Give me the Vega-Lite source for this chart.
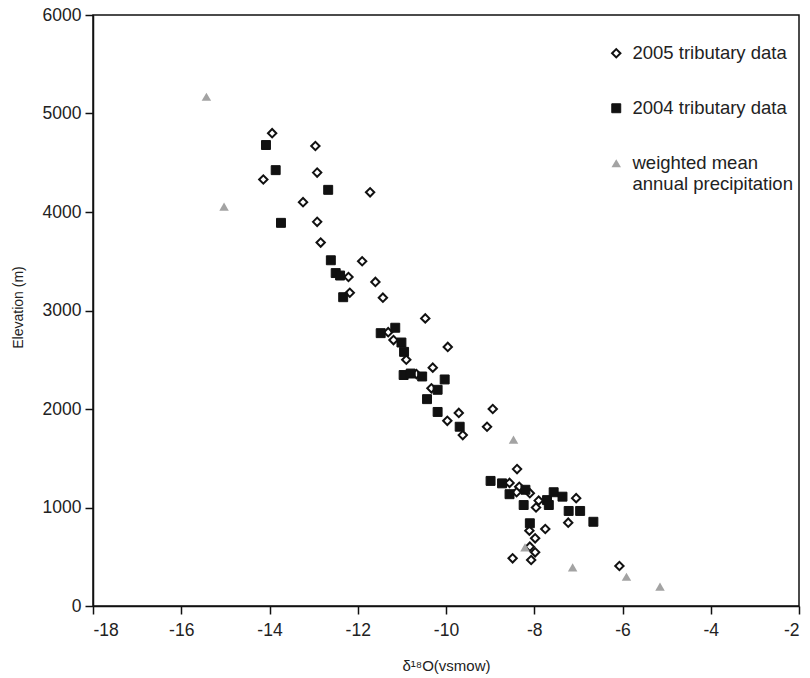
{
  "$schema": "https://vega.github.io/schema/vega-lite/v6.json",
  "width": 706,
  "height": 591,
  "autosize": {"type": "none"},
  "padding": {"left": 93, "top": 15, "right": 11, "bottom": 72},
  "background": "white",
  "config": {
    "view": {"stroke": "#111", "strokeWidth": 1.5},
    "font": "Liberation Sans",
    "axis": {
      "grid": false, "domainColor": "#111", "domainWidth": 1.5,
      "tickColor": "#111", "tickWidth": 1.5, "tickSize": 8,
      "labelFont": "Liberation Sans", "labelFontSize": 17.5, "labelColor": "#222",
      "titleFont": "Liberation Sans", "titleFontWeight": "normal", "titleColor": "#222"
    }
  },
  "data": {"values": [
    {"series": "2005 tributary data", "d18O": -13.94, "elevation": 4800},
    {"series": "2005 tributary data", "d18O": -12.96, "elevation": 4670},
    {"series": "2005 tributary data", "d18O": -12.92, "elevation": 4400},
    {"series": "2005 tributary data", "d18O": -14.14, "elevation": 4330},
    {"series": "2005 tributary data", "d18O": -11.72, "elevation": 4200},
    {"series": "2005 tributary data", "d18O": -13.24, "elevation": 4100},
    {"series": "2005 tributary data", "d18O": -12.92, "elevation": 3900},
    {"series": "2005 tributary data", "d18O": -12.84, "elevation": 3690},
    {"series": "2005 tributary data", "d18O": -11.90, "elevation": 3500},
    {"series": "2005 tributary data", "d18O": -12.21, "elevation": 3340},
    {"series": "2005 tributary data", "d18O": -11.60, "elevation": 3290},
    {"series": "2005 tributary data", "d18O": -12.18, "elevation": 3180},
    {"series": "2005 tributary data", "d18O": -11.43, "elevation": 3130},
    {"series": "2005 tributary data", "d18O": -10.47, "elevation": 2920},
    {"series": "2005 tributary data", "d18O": -11.31, "elevation": 2780},
    {"series": "2005 tributary data", "d18O": -11.19, "elevation": 2700},
    {"series": "2005 tributary data", "d18O": -9.96, "elevation": 2630},
    {"series": "2005 tributary data", "d18O": -10.90, "elevation": 2500},
    {"series": "2005 tributary data", "d18O": -10.30, "elevation": 2420},
    {"series": "2005 tributary data", "d18O": -10.67, "elevation": 2355},
    {"series": "2005 tributary data", "d18O": -10.33, "elevation": 2210},
    {"series": "2005 tributary data", "d18O": -9.71, "elevation": 1960},
    {"series": "2005 tributary data", "d18O": -8.94, "elevation": 2000},
    {"series": "2005 tributary data", "d18O": -9.97, "elevation": 1880},
    {"series": "2005 tributary data", "d18O": -9.07, "elevation": 1820},
    {"series": "2005 tributary data", "d18O": -9.62, "elevation": 1735},
    {"series": "2005 tributary data", "d18O": -8.39, "elevation": 1390},
    {"series": "2005 tributary data", "d18O": -8.56, "elevation": 1250},
    {"series": "2005 tributary data", "d18O": -8.34, "elevation": 1210},
    {"series": "2005 tributary data", "d18O": -8.40, "elevation": 1155},
    {"series": "2005 tributary data", "d18O": -8.10, "elevation": 1145},
    {"series": "2005 tributary data", "d18O": -7.90, "elevation": 1070},
    {"series": "2005 tributary data", "d18O": -7.96, "elevation": 1000},
    {"series": "2005 tributary data", "d18O": -7.05, "elevation": 1095},
    {"series": "2005 tributary data", "d18O": -7.23, "elevation": 846},
    {"series": "2005 tributary data", "d18O": -8.11, "elevation": 765},
    {"series": "2005 tributary data", "d18O": -7.75, "elevation": 782},
    {"series": "2005 tributary data", "d18O": -7.98, "elevation": 687},
    {"series": "2005 tributary data", "d18O": -8.10, "elevation": 602},
    {"series": "2005 tributary data", "d18O": -7.98, "elevation": 545},
    {"series": "2005 tributary data", "d18O": -8.49, "elevation": 484},
    {"series": "2005 tributary data", "d18O": -8.07, "elevation": 467},
    {"series": "2005 tributary data", "d18O": -6.07, "elevation": 406},
    {"series": "2004 tributary data", "d18O": -14.08, "elevation": 4680},
    {"series": "2004 tributary data", "d18O": -13.86, "elevation": 4425},
    {"series": "2004 tributary data", "d18O": -12.67, "elevation": 4225},
    {"series": "2004 tributary data", "d18O": -13.74, "elevation": 3890},
    {"series": "2004 tributary data", "d18O": -12.61, "elevation": 3510},
    {"series": "2004 tributary data", "d18O": -12.50, "elevation": 3380},
    {"series": "2004 tributary data", "d18O": -12.40, "elevation": 3355},
    {"series": "2004 tributary data", "d18O": -12.33, "elevation": 3135},
    {"series": "2004 tributary data", "d18O": -11.48, "elevation": 2770},
    {"series": "2004 tributary data", "d18O": -11.15, "elevation": 2825},
    {"series": "2004 tributary data", "d18O": -11.01, "elevation": 2675},
    {"series": "2004 tributary data", "d18O": -10.95, "elevation": 2580},
    {"series": "2004 tributary data", "d18O": -10.96, "elevation": 2345},
    {"series": "2004 tributary data", "d18O": -10.80, "elevation": 2360},
    {"series": "2004 tributary data", "d18O": -10.54, "elevation": 2330},
    {"series": "2004 tributary data", "d18O": -10.03, "elevation": 2300},
    {"series": "2004 tributary data", "d18O": -10.19, "elevation": 2195},
    {"series": "2004 tributary data", "d18O": -10.43, "elevation": 2100},
    {"series": "2004 tributary data", "d18O": -10.19, "elevation": 1970},
    {"series": "2004 tributary data", "d18O": -9.69, "elevation": 1820},
    {"series": "2004 tributary data", "d18O": -8.99, "elevation": 1270},
    {"series": "2004 tributary data", "d18O": -8.73, "elevation": 1245},
    {"series": "2004 tributary data", "d18O": -8.20, "elevation": 1180},
    {"series": "2004 tributary data", "d18O": -8.56, "elevation": 1135},
    {"series": "2004 tributary data", "d18O": -8.24, "elevation": 1025},
    {"series": "2004 tributary data", "d18O": -7.71, "elevation": 1075},
    {"series": "2004 tributary data", "d18O": -7.67, "elevation": 1025},
    {"series": "2004 tributary data", "d18O": -7.56, "elevation": 1155},
    {"series": "2004 tributary data", "d18O": -7.36, "elevation": 1110},
    {"series": "2004 tributary data", "d18O": -7.22, "elevation": 965},
    {"series": "2004 tributary data", "d18O": -6.96, "elevation": 965},
    {"series": "2004 tributary data", "d18O": -6.66, "elevation": 855},
    {"series": "2004 tributary data", "d18O": -8.10, "elevation": 840},
    {"series": "weighted mean annual precipitation", "d18O": -15.43, "elevation": 5170},
    {"series": "weighted mean annual precipitation", "d18O": -15.03, "elevation": 4055},
    {"series": "weighted mean annual precipitation", "d18O": -8.47, "elevation": 1690},
    {"series": "weighted mean annual precipitation", "d18O": -8.21, "elevation": 596},
    {"series": "weighted mean annual precipitation", "d18O": -7.13, "elevation": 393},
    {"series": "weighted mean annual precipitation", "d18O": -5.91, "elevation": 297},
    {"series": "weighted mean annual precipitation", "d18O": -5.15, "elevation": 196}
  ]},
  "mark": {"type": "point", "filled": true, "opacity": 1},
  "encoding": {
    "x": {
      "field": "d18O", "type": "quantitative",
      "scale": {"domain": [-18, -2], "nice": false, "zero": false},
      "axis": {"values": [-18, -16, -14, -12, -10, -8, -6, -4, -2], "labelExpr": "toString(datum.value)", "title": "δ¹⁸O(vsmow)", "titleFontSize": 15, "titleY": 59, "titleBaseline": "middle", "labelPadding": 7}
    },
    "y": {
      "field": "elevation", "type": "quantitative",
      "scale": {"domain": [0, 6000], "nice": false},
      "axis": {"values": [0, 1000, 2000, 3000, 4000, 5000, 6000], "labelExpr": "toString(datum.value)", "title": "Elevation (m)", "titleFontSize": 14, "titleX": -75, "titleY": 292, "titleBaseline": "middle", "labelPadding": 4}
    },
    "shape": {
      "field": "series", "type": "nominal",
      "scale": {"domain": ["2005 tributary data", "2004 tributary data", "weighted mean annual precipitation"], "range": ["diamond", "square", "triangle-up"]},
      "legend": {
        "orient": "none", "legendX": 514, "legendY": 29, "title": null,
        "labelFontSize": 18.5, "labelColor": "#222", "labelFont": "Liberation Sans", "labelLimit": 400,
        "labelOffset": 7, "rowPadding": 36, "padding": 0,
        "labelExpr": "datum.value == 'weighted mean annual precipitation' ? ['weighted mean', 'annual precipitation'] : datum.label",
        "encode": {"labels": {"enter": {"lineHeight": {"value": 23}}, "update": {"lineHeight": {"value": 23}}}}
      }
    },
    "fill": {
      "field": "series", "type": "nominal",
      "scale": {"domain": ["2005 tributary data", "2004 tributary data", "weighted mean annual precipitation"], "range": ["white", "#111111", "#a3a3a3"]}
    },
    "stroke": {
      "field": "series", "type": "nominal",
      "scale": {"domain": ["2005 tributary data", "2004 tributary data", "weighted mean annual precipitation"], "range": ["#111111", "#111111", "#a3a3a3"]}
    },
    "strokeWidth": {
      "field": "series", "type": "nominal",
      "scale": {"domain": ["2005 tributary data", "2004 tributary data", "weighted mean annual precipitation"], "range": [2, 0, 0]}
    },
    "size": {
      "field": "series", "type": "nominal",
      "scale": {"domain": ["2005 tributary data", "2004 tributary data", "weighted mean annual precipitation"], "range": [70, 90, 130]}
    }
  }
}
